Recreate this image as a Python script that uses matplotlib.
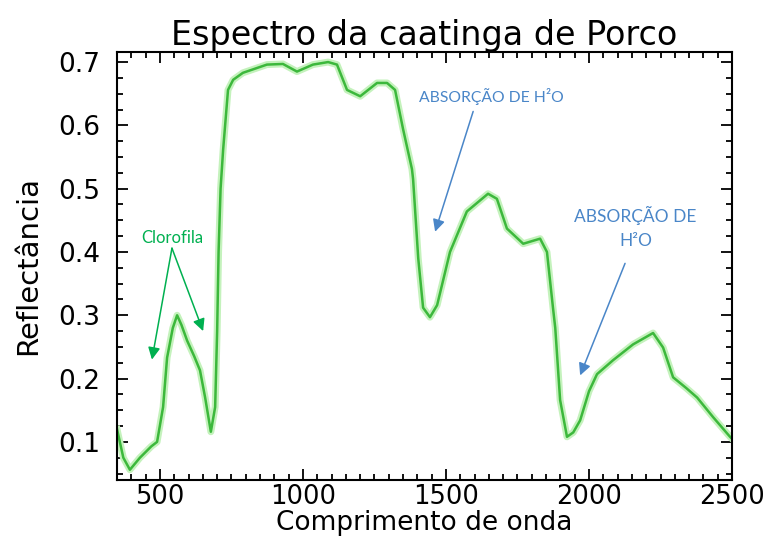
import matplotlib.pyplot as plt
import matplotlib.ticker as ticker

# Espectro (comprimento de onda em nm, reflectancia)
comprimento = [350, 372, 395, 430, 470, 490, 511, 525, 545, 560, 575, 595, 620,
               640, 658, 678, 693, 700, 705, 712, 721, 738, 756, 790, 874, 930,
               979, 1035, 1088, 1119, 1154, 1200, 1259, 1294, 1322, 1350, 1381,
               1385, 1403, 1420, 1444, 1469, 1514, 1573, 1647, 1678, 1713, 1770,
               1829, 1853, 1874, 1882, 1899, 1923, 1945, 1969,
               2000, 2028, 2084, 2154, 2224, 2259, 2294, 2340, 2378, 2434, 2493, 2500]
reflectancia = [0.12, 0.075, 0.056, 0.075, 0.093, 0.10, 0.155, 0.233, 0.28, 0.30,
                0.285, 0.26, 0.235, 0.213, 0.17, 0.116, 0.155, 0.275, 0.40, 0.50,
                0.562, 0.656, 0.672, 0.683, 0.696, 0.697, 0.685, 0.696, 0.70, 0.696,
                0.656, 0.646, 0.667, 0.667, 0.656, 0.594, 0.531,
                0.515, 0.39, 0.312, 0.297, 0.316, 0.40, 0.464, 0.492, 0.484, 0.437,
                0.413, 0.421, 0.40, 0.312, 0.28, 0.166, 0.108, 0.115, 0.134,
                0.18, 0.207, 0.229, 0.254, 0.272, 0.249, 0.202, 0.185, 0.17, 0.139,
                0.108, 0.105]

fonte_idl = {'family': 'DejaVu Sans'}

fig = plt.figure(figsize=(7.73, 5.41), dpi=100)
ax = fig.add_axes([0.1514, 0.113, 0.7956, 0.791])

# brilho claro por baixo + linha verde
ax.plot(comprimento, reflectancia, color='#c4f2bc', lw=5, solid_joinstyle='round')
ax.plot(comprimento, reflectancia, color='#3cb83c', lw=1.8, solid_joinstyle='round')

ax.set_xlim(350, 2500)
ax.set_ylim(0.04, 0.716)
ax.xaxis.set_major_locator(ticker.MultipleLocator(500))
ax.xaxis.set_minor_locator(ticker.MultipleLocator(50))
ax.yaxis.set_major_locator(ticker.MultipleLocator(0.1))
ax.yaxis.set_minor_locator(ticker.MultipleLocator(0.025))
ax.yaxis.set_major_formatter(ticker.FormatStrFormatter('%.1f'))
ax.tick_params(which='both', direction='in', top=True, right=True, width=1.3, color='black')
ax.tick_params(which='major', length=8)
ax.tick_params(which='minor', length=4)
ax.tick_params(axis='y', which='major', pad=12, labelsize=19)
ax.tick_params(axis='x', which='major', pad=3, labelsize=18.5)
for lab in ax.get_xticklabels() + ax.get_yticklabels():
    lab.set_fontfamily('DejaVu Sans')
for s in ax.spines.values():
    s.set_linewidth(1.5)

ax.set_title('Espectro da caatinga de Porco', fontsize=24, pad=4, **fonte_idl)
ax.set_xlabel('Comprimento de onda', fontsize=19, labelpad=0, **fonte_idl)
ax.set_ylabel('Reflectância', fontsize=21, labelpad=12, **fonte_idl)

# anotacoes
verde = '#00b050'
azul = '#4a86c8'
ax.text(542, 0.41, 'Clorofila', color=verde, fontsize=12, family='Lato',
        ha='center', va='bottom')
for alvo in [(472, 0.23), (651, 0.275)]:
    ax.annotate('', xy=alvo, xytext=(542, 0.406),
                arrowprops=dict(arrowstyle='-|>', color=verde, lw=1.1,
                                mutation_scale=18, shrinkA=0, shrinkB=0))

ax.text(1660, 0.645, 'ABSORÇÃO DE H²O', color=azul, fontsize=11.3, family='Lato',
        ha='center', va='center')
ax.annotate('', xy=(1462, 0.432), xytext=(1595, 0.622),
            arrowprops=dict(arrowstyle='-|>', color=azul, lw=1.1,
                            mutation_scale=18, shrinkA=0, shrinkB=0))

ax.text(2163, 0.4386, 'ABSORÇÃO DE\nH²O', color=azul, fontsize=12.5, family='Lato',
        ha='center', va='center', linespacing=1.6)
ax.annotate('', xy=(1969, 0.205), xytext=(2126, 0.382),
            arrowprops=dict(arrowstyle='-|>', color=azul, lw=1.1,
                            mutation_scale=18, shrinkA=0, shrinkB=0))

fig.savefig('out.png', dpi=100)
